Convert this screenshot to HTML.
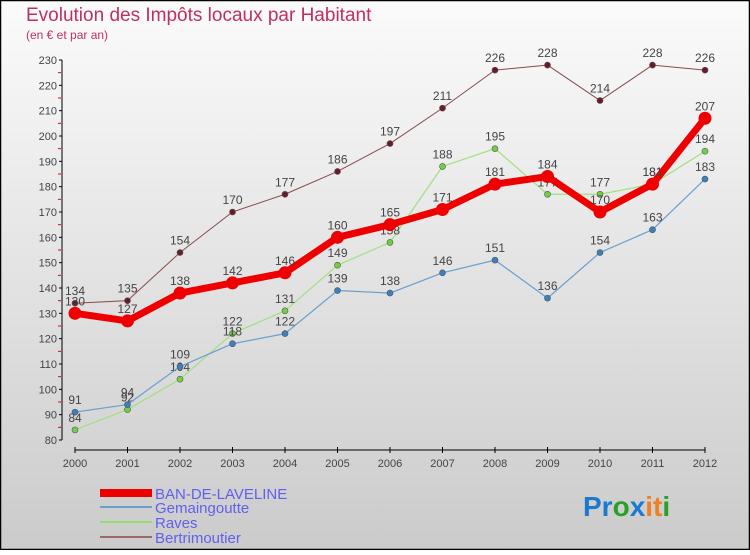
<!DOCTYPE html>
<html><head><meta charset="utf-8">
<style>
html,body{margin:0;padding:0;}
body{width:750px;height:550px;overflow:hidden;font-family:"Liberation Sans",sans-serif;}
</style></head>
<body>
<svg id="chart" width="750" height="550" xmlns="http://www.w3.org/2000/svg">
<defs>
<linearGradient id="bg" x1="0" y1="0" x2="0" y2="1">
<stop offset="0" stop-color="#fbfbfb"/><stop offset="1" stop-color="#cbcbcb"/>
</linearGradient>
</defs>
<rect x="0.5" y="0.5" width="749" height="549" fill="url(#bg)" stroke="#000" stroke-width="1.5"/>
<text x="26" y="21" font-size="19" fill="#c0305a">Evolution des Impôts locaux par Habitant</text>
<text x="26" y="39" font-size="12" fill="#c0305a">(en € et par an)</text>
<g id="axes"></g>
<g id="series"></g>
<g id="legend">
<rect x="100" y="489" width="52" height="8" fill="#e00"/>
<text x="155" y="499" font-size="15" fill="#6060f0">BAN-DE-LAVELINE</text>
<rect x="100" y="506" width="52" height="2" fill="#6a9fcf"/>
<text x="155" y="513" font-size="15" fill="#6060f0">Gemaingoutte</text>
<rect x="100" y="521" width="52" height="2" fill="#90e070"/>
<text x="155" y="528" font-size="15" fill="#6060f0">Raves</text>
<rect x="100" y="536" width="52" height="2" fill="#9a6a6a"/>
<text x="155" y="543" font-size="15" fill="#6060f0">Bertrimoutier</text>
</g>
<text x="583" y="516" font-size="28" font-weight="bold"><tspan fill="#1a7ad0">Pr</tspan><tspan fill="#2aa02a">o</tspan><tspan fill="#1a7ad0">x</tspan><tspan fill="#f08020">it</tspan><tspan fill="#2aa02a">i</tspan></text>
</svg>
<script>
const years=[2000,2001,2002,2003,2004,2005,2006,2007,2008,2009,2010,2011,2012];
const yTicks=[80,90,100,110,120,130,140,150,160,170,180,190,200,210,220,230];
const banValues=[130,127,138,142,146,160,165,171,181,184,170,181,207];
const gemValues=[91,94,109,118,122,139,138,146,151,136,154,163,183];
const ravesValues=[84,92,104,122,131,149,158,188,195,177,177,181,194];
const bertValues=[134,135,154,170,177,186,197,211,226,228,214,228,226];
const NS="http://www.w3.org/2000/svg";
function xs(i){return 75+i*52.5;}
function ys(v){return 440-(v-80)*(380/150);}
function mk(tag,attrs,parent){const e=document.createElementNS(NS,tag);for(const k in attrs)e.setAttribute(k,attrs[k]);parent.appendChild(e);return e;}
const ax=document.getElementById('axes');
let yl=mk('line',{x1:62,y1:60,x2:62,y2:440,stroke:'#000','stroke-width':1},ax);


yTicks.forEach(v=>{
  mk('line',{x1:59,y1:ys(v),x2:62,y2:ys(v),stroke:'#000'},ax);
  const t=mk('text',{x:57,y:ys(v)+4,'font-size':11,'text-anchor':'end',fill:'#444'},ax);
  t.textContent=v;
  
  
  if(v<230) mk('line',{x1:58,y1:ys(v+5),x2:61,y2:ys(v+5),stroke:'#e00'},ax);
});
let xl=mk('line',{x1:75,y1:450,x2:705,y2:450,stroke:'#000','stroke-width':1},ax);


years.forEach((y,i)=>{
  mk('line',{x1:xs(i),y1:447,x2:xs(i),y2:453,stroke:'#000'},ax);
  const t=mk('text',{x:xs(i),y:467,'font-size':11,'text-anchor':'middle',fill:'#444'},ax);
  t.textContent=y;
  
  
});
const sg=document.getElementById('series');
function draw(name,vals,color,dot,w,r,below){
  const g=mk('g',{},sg);
  
  
  const pl=mk('polyline',{points:vals.map((v,i)=>xs(i)+','+ys(v)).join(' '),fill:'none',stroke:color,'stroke-width':w,'stroke-linejoin':'round'},g);
  
  
  vals.forEach((v,i)=>{
    const c=mk('circle',{cx:xs(i),cy:ys(v),r:r,fill:dot,stroke:'#555','stroke-width':w>3?0:0.6},g);
    
    
    const t=mk('text',{x:xs(i),y:ys(v)-(below?-4:8),'font-size':12,'text-anchor':'middle',fill:'#444'},g);
    t.textContent=v;
    
    
  });
}
draw('bertrimoutier',bertValues,'#8a4a4a','#6a1a2a',1,3,false);
draw('raves',ravesValues,'#a0e080','#70d040',1.2,3,false);
draw('gemaingoutte',gemValues,'#6a9fcf','#3a7fc0',1.2,3,false);
draw('ban-de-laveline',banValues,'#ee0000','#ee0000',7,6.5,false);
</script>
</body></html>
